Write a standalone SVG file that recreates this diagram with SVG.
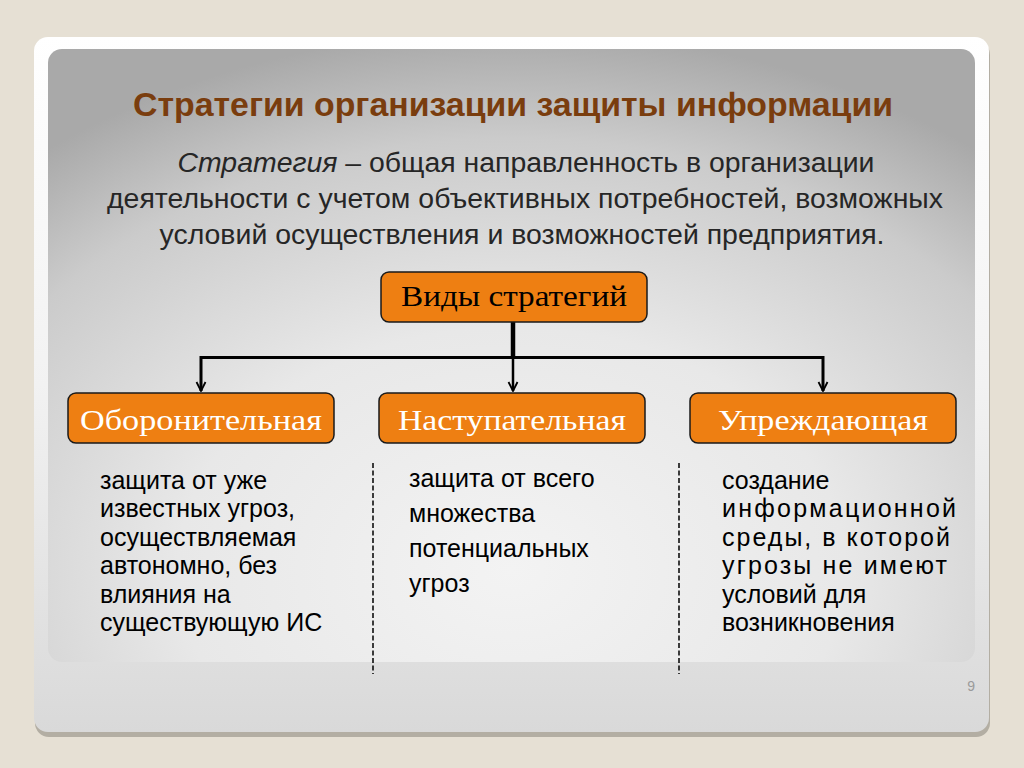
<svg xmlns="http://www.w3.org/2000/svg" width="1024" height="768" viewBox="0 0 1024 768">
<defs>
  <linearGradient id="cardG" x1="0" y1="0" x2="0" y2="1">
    <stop offset="0" stop-color="#ffffff"/>
    <stop offset="0.5" stop-color="#f2f2f2"/>
    <stop offset="1" stop-color="#d9d9d9"/>
  </linearGradient>
  <radialGradient id="panelG" cx="0.5" cy="0.85" r="0.8" gradientTransform="translate(0.5 0.85) scale(1 1.1) translate(-0.5 -0.85)">
    <stop offset="0" stop-color="#f3f3f3"/>
    <stop offset="0.45" stop-color="#e8e8e8"/>
    <stop offset="0.8" stop-color="#cbcbcb"/>
    <stop offset="1" stop-color="#a9a9a9"/>
  </radialGradient>
  <marker id="arr" viewBox="0 0 12 12" refX="11" refY="6" markerWidth="12" markerHeight="12" markerUnits="userSpaceOnUse" orient="auto-start-reverse">
    <path d="M2,1.5 L11,6 L2,10.5" fill="none" stroke="#000" stroke-width="1.8"/>
  </marker>
  <style>
    .box { fill: #ee7f12; stroke: #1a1a1a; stroke-width: 1.5; }
    .btxt { font-family: "Liberation Serif", "Times New Roman", serif; font-size: 30px; text-anchor: middle; }
    .body { font-family: "Liberation Sans", Arial, sans-serif; font-size: 25px; fill: #000; }
    .sub { font-family: "Liberation Sans", Arial, sans-serif; font-size: 27px; fill: #262626; text-anchor: middle; }
    .conn { fill: none; stroke: #000; }
    .dash { stroke: #000; stroke-width: 1.5; stroke-dasharray: 5 2.5; fill: none; }
  </style>
</defs>

<rect x="0" y="0" width="1024" height="768" fill="#e6e0d4"/>

<!-- card -->
<rect x="35" y="41" width="955" height="696" rx="14" fill="#b3aea3"/>
<rect x="34" y="37" width="955" height="695" rx="14" fill="url(#cardG)"/>
<rect x="48" y="49" width="927" height="613" rx="14" fill="url(#panelG)"/>
<text x="975" y="691" font-family="Liberation Sans, Arial, sans-serif" font-size="14" fill="#9a9a9a" text-anchor="end">9</text>

<!-- title & definition -->
<text x="513" y="116" font-family="Liberation Sans, Arial, sans-serif" font-size="34" font-weight="bold" fill="#7a3d0e" text-anchor="middle" textLength="760" lengthAdjust="spacingAndGlyphs">Стратегии организации защиты информации</text>
<text class="sub" x="526" y="172" textLength="697" lengthAdjust="spacingAndGlyphs"><tspan font-style="italic">Стратегия</tspan> – общая направленность в организации</text>
<text class="sub" x="525" y="208" textLength="836" lengthAdjust="spacingAndGlyphs">деятельности с учетом объективных потребностей, возможных</text>
<text class="sub" x="522" y="244" textLength="725" lengthAdjust="spacingAndGlyphs">условий осуществления и возможностей предприятия.</text>

<!-- connectors -->
<g id="connectors">
  <line class="conn" x1="513" y1="322" x2="513" y2="358" stroke-width="4.5"/>
  <polyline class="conn" points="201,391 201,357.5 823,357.5 823,391" stroke-width="3" marker-start="url(#arr)" marker-end="url(#arr)"/>
  <line class="conn" x1="513" y1="357" x2="513" y2="391" stroke-width="2.5" marker-end="url(#arr)"/>
  <line class="dash" x1="373" y1="463" x2="373" y2="674"/>
  <line class="dash" x1="679" y1="463" x2="679" y2="674"/>
</g>

<!-- nodes -->
<g id="node-root">
  <rect class="box" x="381" y="272" width="266" height="50" rx="8"/>
  <text class="btxt" x="514" y="306" fill="#000" textLength="226" lengthAdjust="spacingAndGlyphs">Виды стратегий</text>
</g>
<g id="node-defensive">
  <rect class="box" x="68" y="393" width="266" height="50" rx="8"/>
  <text class="btxt" x="201" y="430" fill="#fff" textLength="242" lengthAdjust="spacingAndGlyphs">Оборонительная</text>
</g>
<g id="node-offensive">
  <rect class="box" x="379" y="393" width="266" height="50" rx="8"/>
  <text class="btxt" x="512" y="430" fill="#fff" textLength="228" lengthAdjust="spacingAndGlyphs">Наступательная</text>
</g>
<g id="node-preventive">
  <rect class="box" x="690" y="393" width="266" height="50" rx="8"/>
  <text class="btxt" x="823" y="430" fill="#fff" textLength="210" lengthAdjust="spacingAndGlyphs">Упреждающая</text>
</g>

<!-- descriptions -->
<g id="desc-defensive">
  <text class="body" x="100" y="489">защита от уже</text>
  <text class="body" x="100" y="517">известных угроз,</text>
  <text class="body" x="100" y="546">осуществляемая</text>
  <text class="body" x="100" y="574">автономно, без</text>
  <text class="body" x="100" y="603">влияния на</text>
  <text class="body" x="100" y="631">существующую ИС</text>
</g>
<g id="desc-offensive">
  <text class="body" x="409" y="487">защита от всего</text>
  <text class="body" x="409" y="522">множества</text>
  <text class="body" x="409" y="557">потенциальных</text>
  <text class="body" x="409" y="592">угроз</text>
</g>
<g id="desc-preventive">
  <text class="body" x="722" y="489">создание</text>
  <text class="body" x="722" y="517" textLength="234" lengthAdjust="spacing">информационной</text>
  <text class="body" x="722" y="546" textLength="228" lengthAdjust="spacing">среды, в которой</text>
  <text class="body" x="722" y="574" textLength="225" lengthAdjust="spacing">угрозы не имеют</text>
  <text class="body" x="722" y="603">условий для</text>
  <text class="body" x="722" y="631">возникновения</text>
</g>
</svg>
